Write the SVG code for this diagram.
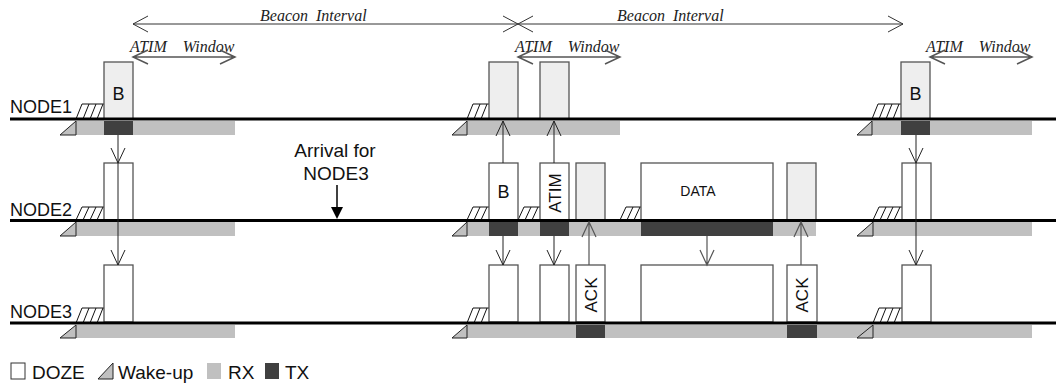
<svg xmlns="http://www.w3.org/2000/svg" width="1056" height="388" viewBox="0 0 1056 388">
<style>
.lbl{font-family:"Liberation Sans",Arial,sans-serif;fill:#111}
.it{font-family:"Liberation Serif","Times New Roman",serif;font-style:italic;font-size:16px;fill:#222}
.box{stroke:#555;stroke-width:1.3}
.lt{fill:#eeeeee}
.wh{fill:#ffffff}
.rx{fill:#c0c0c0}
.tx{fill:#404040}
.tl{stroke:#000;stroke-width:3;fill:none}
.wk{fill:#c0c0c0;stroke:#222;stroke-width:1}
.ht{fill:none;stroke:#111;stroke-width:1}
.ar{fill:none;stroke:#222;stroke-width:1}
.ag{fill:none;stroke:#555;stroke-width:1.2}
.bi{fill:none;stroke:#333;stroke-width:1}
.aw{fill:none;stroke:#555;stroke-width:1.5}
</style>
<g id="labels">
<text class="lbl" x="10" y="113" font-size="18">NODE1</text>
<text class="lbl" x="10" y="216" font-size="18">NODE2</text>
<text class="lbl" x="10" y="318" font-size="18">NODE3</text>
</g>
<g id="intervals">
<text class="it" x="260" y="21" xml:space="preserve">Beacon  Interval</text>
<text class="it" x="617" y="21" xml:space="preserve">Beacon  Interval</text>
<path class="bi" d="M133,24 H903 M148,16 L133,24 L148,32 M503,16 L518,24 L503,32 M533,16 L518,24 L533,32 M888,16 L903,24 L888,32"/>
<text class="it" x="130" y="52" xml:space="preserve">ATIM    Window</text>
<text class="it" x="515" y="52" xml:space="preserve">ATIM    Window</text>
<text class="it" x="926" y="52" xml:space="preserve">ATIM    Window</text>
<path class="aw" d="M133,57 H235 M148,50 L133,57 L148,64 M220,50 L235,57 L220,64"/>
<path class="aw" d="M518,57 H620 M533,50 L518,57 L533,64 M605,50 L620,57 L605,64"/>
<path class="aw" d="M930,57 H1032 M945,50 L930,57 L945,64 M1017,50 L1032,57 L1017,64"/>
</g>
<g id="bands">
<rect class="rx" x="76" y="121" width="159" height="14"/>
<rect class="tx" x="104" y="121" width="29" height="14"/>
<rect class="rx" x="467" y="121" width="153" height="14"/>
<rect class="rx" x="872" y="121" width="160" height="14"/>
<rect class="tx" x="901" y="121" width="29" height="14"/>
<rect class="rx" x="76" y="222" width="159" height="14"/>
<rect class="rx" x="467" y="222" width="349" height="14"/>
<rect class="tx" x="489" y="222" width="29" height="14"/>
<rect class="tx" x="540" y="222" width="29" height="14"/>
<rect class="tx" x="641" y="222" width="132" height="14"/>
<rect class="rx" x="873" y="222" width="159" height="14"/>
<rect class="rx" x="76" y="325" width="159" height="13"/>
<rect class="rx" x="467" y="325" width="565" height="13"/>
<rect class="tx" x="576" y="325" width="29" height="13"/>
<rect class="tx" x="787" y="325" width="30" height="13"/>
</g>
<g id="wakeups">
<path class="wk" d="M60,135 H76 V121 Z M452,135 H467 V121 Z M857,135 H872 V121 Z"/>
<path class="wk" d="M60,236 H76 V222 Z M452,236 H467 V222 Z M857,236 H873 V222 Z"/>
<path class="wk" d="M60,338 H76 V325 Z M452,338 H467 V325 Z M857,338 H873 V325 Z"/>
</g>
<g id="hatches">
<path class="ht" d="M82,104 H104 M76,119 L82,104 M83,119 L89,104 M90,119 L96,104 M97,119 L103,104"/>
<path class="ht" d="M473,104 H489 M467,119 L473,104 M474,119 L480,104 M481,119 L487,104"/>
<path class="ht" d="M878,104 H901 M872,119 L878,104 M879,119 L885,104 M886,119 L892,104 M893,119 L899,104"/>
<path class="ht" d="M82,207 H104 M76,220 L82,207 M83,220 L89,207 M90,220 L96,207 M97,220 L103,207"/>
<path class="ht" d="M473,207 H489 M467,220 L473,207 M474,220 L480,207 M481,220 L487,207"/>
<path class="ht" d="M524,207 H540 M518,220 L524,207 M525,220 L531,207 M532,220 L538,207"/>
<path class="ht" d="M626,207 H641 M620,220 L626,207 M627,220 L633,207 M634,220 L640,207"/>
<path class="ht" d="M879,207 H902 M873,220 L879,207 M880,220 L886,207 M887,220 L893,207 M894,220 L900,207"/>
<path class="ht" d="M82,308 H104 M76,323 L82,308 M83,323 L89,308 M90,323 L96,308 M97,323 L103,308"/>
<path class="ht" d="M473,308 H489 M467,323 L473,308 M474,323 L480,308 M481,323 L487,308"/>
<path class="ht" d="M879,308 H902 M873,323 L879,308 M880,323 L886,308 M887,323 L893,308 M894,323 L900,308"/>
</g>
<g id="node1-frames">
<rect class="box lt" x="104" y="62" width="29" height="57"/>
<text class="lbl" x="118.5" y="100" font-size="18" text-anchor="middle">B</text>
<rect class="box lt" x="489" y="62" width="29" height="57"/>
<rect class="box lt" x="540" y="62" width="29" height="57"/>
<rect class="box lt" x="901" y="62" width="29" height="57"/>
<text class="lbl" x="915.5" y="100" font-size="18" text-anchor="middle">B</text>
</g>
<g id="node2-frames">
<rect class="box wh" x="104" y="163" width="29" height="57"/>
<rect class="box wh" x="489" y="163" width="29" height="57"/>
<text class="lbl" x="503.5" y="198" font-size="18" text-anchor="middle">B</text>
<rect class="box wh" x="540" y="163" width="29" height="57"/>
<text class="lbl" transform="translate(554.5,193) rotate(-90)" x="0" y="6" font-size="17" text-anchor="middle">ATIM</text>
<rect class="box lt" x="576" y="163" width="29" height="57"/>
<rect class="box wh" x="641" y="163" width="132" height="57"/>
<text class="lbl" x="698" y="196" font-size="14" text-anchor="middle">DATA</text>
<rect class="box lt" x="787" y="163" width="29" height="57"/>
<rect class="box wh" x="902" y="163" width="29" height="57"/>
</g>
<g id="node3-frames">
<rect class="box wh" x="104" y="265" width="29" height="57"/>
<rect class="box wh" x="489" y="265" width="29" height="57"/>
<rect class="box wh" x="540" y="265" width="29" height="57"/>
<rect class="box wh" x="576" y="265" width="29" height="57"/>
<text class="lbl" transform="translate(590.5,295) rotate(-90)" x="0" y="6" font-size="17" text-anchor="middle">ACK</text>
<rect class="box wh" x="641" y="265" width="132" height="57"/>
<rect class="box wh" x="787" y="265" width="30" height="57"/>
<text class="lbl" transform="translate(802,295) rotate(-90)" x="0" y="6" font-size="17" text-anchor="middle">ACK</text>
<rect class="box wh" x="902" y="265" width="29" height="57"/>
</g>
<g id="timelines">
<line class="tl" x1="10" y1="119" x2="1056" y2="119"/>
<line class="tl" x1="10" y1="220.5" x2="1056" y2="220.5"/>
<line class="tl" x1="10" y1="323" x2="1056" y2="323"/>
</g>
<g id="arrival">
<text class="lbl" x="335" y="157" font-size="19" text-anchor="middle">Arrival for</text>
<text class="lbl" x="336" y="180" font-size="19" text-anchor="middle">NODE3</text>
<line x1="337" y1="185" x2="337" y2="208" stroke="#000" stroke-width="1.5"/>
<path d="M331,207 H343 L337,219 Z" fill="#000"/>
</g>
<g id="connectors">
<path class="ar" d="M118,135 V265 M111,148 L118,163 L125,148 M111,250 L118,265 L125,250"/>
<path class="ar" d="M916,135 V265 M909,148 L916,163 L923,148 M909,250 L916,265 L923,250"/>
<path class="ar" d="M503,163 V121 M496,136 L503,121 L510,136"/>
<path class="ar" d="M554,163 V121 M547,136 L554,121 L561,136"/>
<path class="ar" d="M503,236 V265 M496,250 L503,265 L510,250"/>
<path class="ar" d="M554,236 V265 M547,250 L554,265 L561,250"/>
<path class="ag" d="M707,236 V265 M700,250 L707,265 L714,250"/>
<path class="ag" d="M589,265 V222 M582,237 L589,222 L596,237"/>
<path class="ag" d="M801,265 V222 M794,237 L801,222 L808,237"/>
</g>
<g id="legend">
<rect x="11" y="363" width="14" height="16" fill="#fff" stroke="#333" stroke-width="1"/>
<text class="lbl" x="32" y="379" font-size="19">DOZE</text>
<path class="wk" d="M98,379 H113 V363 Z"/>
<text class="lbl" x="118" y="379" font-size="19">Wake-up</text>
<rect class="rx" x="207" y="363" width="14" height="16"/>
<text class="lbl" x="228" y="379" font-size="19">RX</text>
<rect class="tx" x="265" y="363" width="14" height="16"/>
<text class="lbl" x="285" y="379" font-size="19">TX</text>
</g>
</svg>
